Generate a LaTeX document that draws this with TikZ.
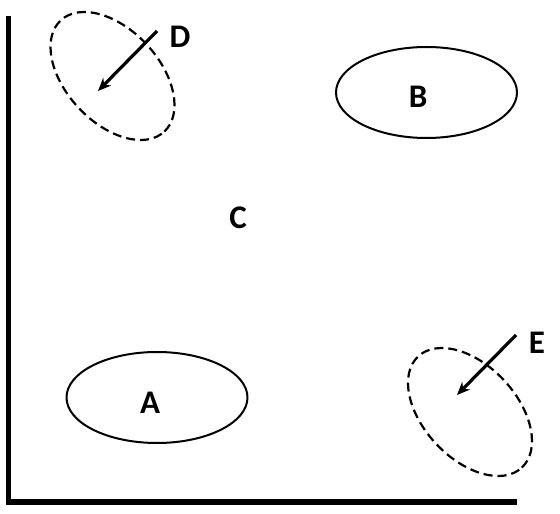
\documentclass[tikz,border=0pt]{standalone}
\usepackage{fontspec}
\setmainfont{Carlito}
\usetikzlibrary{arrows.meta}

\begin{document}
\begin{tikzpicture}[x=1pt, y=1pt, line join=round, line cap=round]
    \useasboundingbox (0,0) rectangle (560,514);
    \tikzset{
        letter/.style={font=\fontsize{33}{38}\selectfont\bfseries, inner sep=0pt},
        cluster/.style={line width=2pt},
        spread/.style={line width=2.2pt, line cap=butt, dash pattern=on 9pt off 5pt},
        drift/.style={line width=3.2pt, line cap=butt, -{Stealth[length=13pt, width=11pt]}}
    }

    % 1. Axes
    \coordinate (top) at (8.5,498);
    \coordinate (corner) at (8.5,12);
    \coordinate (right) at (517,12);
    \draw[line width=5.5pt, line cap=butt, line join=miter] (top) -- (corner) -- (right);

    % 2. Solid ellipses (A and B)
    \coordinate (cA) at (157,116.5);
    \coordinate (cB) at (426.5,421.5);
    \draw[cluster] (cA) ellipse (90.5 and 45.5);
    \draw[cluster] (cB) ellipse (90.5 and 45.5);

    % 3. Dashed ellipses (D and E)
    \coordinate (cD) at (112.5,438);
    \coordinate (cE) at (470,102);
    \draw[spread, rotate around={-47:(cD)}] (cD) ellipse (76 and 46.5);
    \draw[spread, rotate around={-47:(cE)}] (cE) ellipse (76 and 46.5);

    % 4. Arrows
    \coordinate (D1) at (157,483);
    \coordinate (D2) at (98,423);
    \coordinate (E1) at (516,179);
    \coordinate (E2) at (457,119);
    \draw[drift] (D1) -- (D2);
    \draw[drift] (E1) -- (E2);

    % 5. Labels
    \node[letter] (A) at (150,111) {A};
    \node[letter] (B) at (418,417) {B};
    \node[letter] (C) at (238,296) {C};
    \node[letter] (D) at (180,477) {D};
    \node[letter] (E) at (537,171) {E};
\end{tikzpicture}
\end{document}
